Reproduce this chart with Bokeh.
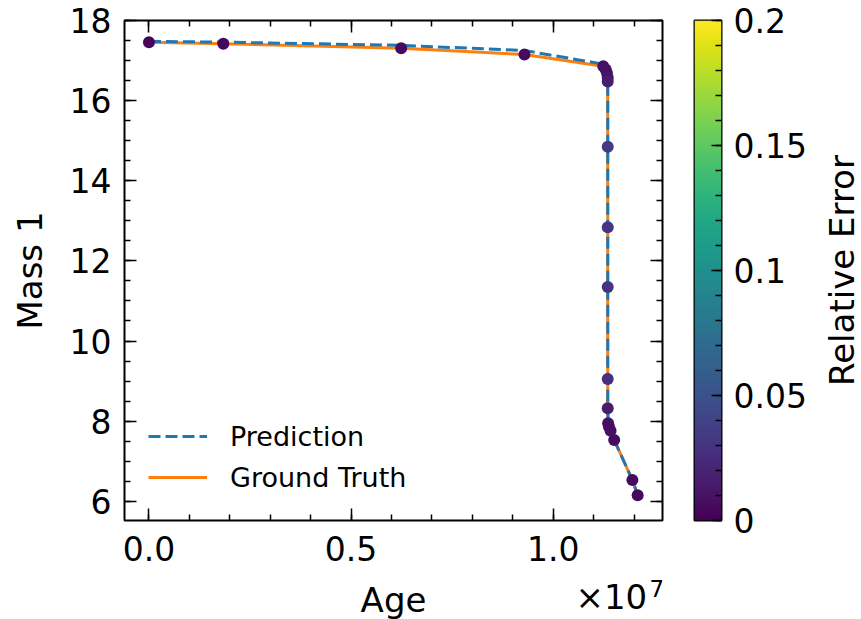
import numpy as np
from bokeh.plotting import figure
from bokeh.layouts import row, column
from bokeh.models import (ColumnDataSource, LinearAxis, SingleIntervalTicker, CustomJSTickFormatter,
                          LinearColorMapper, Legend, LegendItem, Range1d)
from bokeh.core.properties import value
from bokeh.palettes import Viridis256
from bokeh.embed import file_html
from bokeh.resources import INLINE

# ---- data ----
age = [0.0, 0.184e7, 0.624e7, 0.929e7, 1.124e7, 1.130e7, 1.133e7, 1.135e7, 1.135e7, 1.135e7,
       1.135e7, 1.135e7, 1.135e7, 1.135e7, 1.136e7, 1.138e7, 1.142e7, 1.151e7, 1.196e7, 1.209e7]
mass_truth = [17.46, 17.42, 17.31, 17.15, 16.86, 16.78, 16.69, 16.58, 16.48, 14.85,
              12.84, 11.35, 9.05, 8.32, 7.95, 7.86, 7.76, 7.53, 6.53, 6.15]
mass_pred = [17.48, 17.46, 17.38, 17.25, 16.91, 16.80, 16.70, 16.58, 16.48, 14.85,
             12.84, 11.35, 9.05, 8.32, 7.95, 7.86, 7.76, 7.53, 6.53, 6.15]
rel_error = [0.003, 0.004, 0.006, 0.006, 0.008, 0.010, 0.010, 0.012, 0.015, 0.035,
             0.032, 0.030, 0.028, 0.015, 0.010, 0.008, 0.008, 0.007, 0.006, 0.005]
x_tick_step = 0.5e7
y_tick_step = 2
cbar_ticks_step = 0.05
err_low, err_high = 0.0, 0.2
x_label = "Age"
x_scale_label = "×10"
x_scale_exp = "7"
y_label = "Mass 1"
cbar_label = "Relative Error"

FONT = "DejaVu Sans"
TICK_FS = "33px"
LABEL_FS = "34px"

src = ColumnDataSource(dict(age=age, truth=mass_truth, pred=mass_pred, err=rel_error))
mapper = LinearColorMapper(palette=Viridis256, low=err_low, high=err_high)

p = figure(frame_width=538, frame_height=500, output_backend="svg", toolbar_location=None,
           x_range=Range1d(-0.0605e7, 1.2705e7), y_range=Range1d(5.52, 18.0),
           min_border_left=124, min_border_right=10, min_border_top=20, min_border_bottom=80)
p.xgrid.visible = False
p.ygrid.visible = False
p.outline_line_color = "black"
p.outline_line_width = 2
p.background_fill_color = "white"
p.border_fill_color = "white"

p.xaxis.ticker = SingleIntervalTicker(interval=x_tick_step, num_minor_ticks=5)
p.yaxis.ticker = SingleIntervalTicker(interval=y_tick_step, num_minor_ticks=4)
p.xaxis.formatter = CustomJSTickFormatter(code="return (tick/1e7).toFixed(1)")
p.yaxis.axis_label = y_label

def style_axis(ax, labels=True):
    ax.axis_line_color = None
    ax.major_tick_in = 12
    ax.major_tick_out = 0
    ax.minor_tick_in = 6
    ax.minor_tick_out = 0
    ax.major_tick_line_width = 1.5
    ax.minor_tick_line_width = 1.5
    ax.major_tick_line_color = "black"
    ax.minor_tick_line_color = "black"
    ax.major_label_text_font = FONT
    ax.axis_label_text_font = FONT
    ax.axis_label_text_font_style = "normal"
    ax.axis_label_text_font_size = LABEL_FS
    ax.axis_label_text_color = "black"
    ax.major_label_text_color = "black"
    ax.major_label_text_font_size = TICK_FS
    if not labels:
        ax.formatter = CustomJSTickFormatter(code="return ''")
        ax.major_label_standoff = 0

for ax in p.xaxis + p.yaxis:
    style_axis(ax)
p.xaxis.major_label_standoff = 15
p.yaxis.major_label_standoff = 13
p.yaxis.axis_label_standoff = 17

top_ax = LinearAxis(ticker=SingleIntervalTicker(interval=x_tick_step, num_minor_ticks=5))
right_ax = LinearAxis(ticker=SingleIntervalTicker(interval=y_tick_step, num_minor_ticks=4))
style_axis(top_ax, labels=False)
style_axis(right_ax, labels=False)
p.add_layout(top_ax, "above")
p.add_layout(right_ax, "right")

gt = p.line("age", "truth", source=src, line_color="#ff7f0e", line_width=3)
pr = p.line("age", "pred", source=src, line_color="#1f77b4", line_width=3, line_dash="12 5")
p.scatter("age", "truth", source=src, size=12, line_color=None,
          fill_color={"field": "err", "transform": mapper})

legend = Legend(items=[LegendItem(label="Prediction", renderers=[pr]),
                       LegendItem(label="Ground Truth", renderers=[gt])],
                location=(24, 26), padding=0, margin=0, spacing=7,
                glyph_width=59, glyph_height=34, label_height=34, label_standoff=23,
                label_text_font=FONT, label_text_font_size="27px", label_text_color="black",
                border_line_color=None, background_fill_alpha=0)
p.add_layout(legend)

# ---- footer with the x-axis label and the scale factor (pulled up over p's bottom border) ----
f = figure(frame_width=538, frame_height=69, output_backend="svg", toolbar_location=None,
           x_range=Range1d(0, 538), y_range=Range1d(0, 69),
           x_axis_location=None, y_axis_location=None,
           min_border_left=124, min_border_right=10, min_border_top=0, min_border_bottom=0,
           margin=(-50, 0, 0, 0))
f.xgrid.visible = False
f.ygrid.visible = False
f.outline_line_color = None
f.background_fill_alpha = 0
f.border_fill_alpha = 0
f.text(x=[269], y=[20], text=[x_label], text_font=value(FONT), text_font_size=LABEL_FS,
       text_align="center", text_baseline="middle", text_color="black")
f.text(x=[451], y=[23], text=[x_scale_label], text_font=value(FONT), text_font_size=LABEL_FS,
       text_align="left", text_baseline="middle", text_color="black")
f.text(x=[525], y=[31], text=[x_scale_exp], text_font=value(FONT), text_font_size="23px",
       text_align="left", text_baseline="middle", text_color="black")

# ---- colorbar figure ----
c = figure(frame_width=27, frame_height=500, output_backend="svg", toolbar_location=None,
           x_range=Range1d(0, 1), y_range=Range1d(err_low, err_high),
           y_axis_location="right", x_axis_location=None,
           min_border_left=22, min_border_right=100, min_border_top=20, min_border_bottom=80)
c.xgrid.visible = False
c.ygrid.visible = False
c.outline_line_color = "black"
c.outline_line_width = 2
grad = np.linspace(err_low, err_high, 256).reshape(256, 1)
c.image(image=[grad], x=0, y=err_low, dw=1, dh=err_high - err_low, color_mapper=mapper)
cax = c.yaxis[0]
cax.ticker = SingleIntervalTicker(interval=cbar_ticks_step, num_minor_ticks=5)
cax.formatter = CustomJSTickFormatter(code="return tick === 0 ? '0' : String(+tick.toFixed(2))")
style_axis(cax)
cax.major_tick_in = 10
cax.minor_tick_in = 6
cax.major_label_text_font_size = TICK_FS
cax.major_label_standoff = 12

# ---- colorbar title (rotated) ----
d = figure(frame_width=40, frame_height=500, output_backend="svg", toolbar_location=None,
           x_range=Range1d(0, 40), y_range=Range1d(0, 500),
           x_axis_location=None, y_axis_location=None,
           min_border_left=0, min_border_right=0, min_border_top=20, min_border_bottom=80)
d.xgrid.visible = False
d.ygrid.visible = False
d.outline_line_color = None
d.text(x=[20], y=[250], text=[cbar_label], angle=np.pi / 2, text_font=value(FONT),
       text_font_size=LABEL_FS, text_align="center", text_baseline="middle", text_color="black")

layout = column(row(p, c, d), f)
open("out.html", "w").write(file_html(layout, INLINE))
